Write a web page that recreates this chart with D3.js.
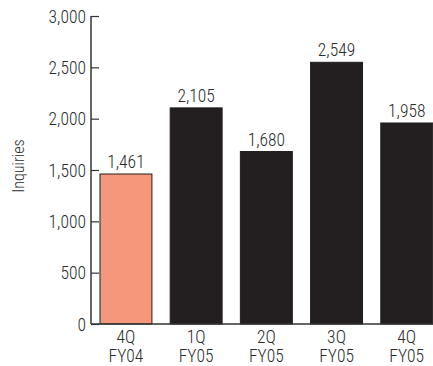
<!DOCTYPE html>
<html><head><meta charset="utf-8">
<script src="https://cdn.jsdelivr.net/npm/d3@7"></script>
<style>body{margin:0;background:#fff}svg{display:block}text{font-family:"Roboto Condensed","Liberation Sans",sans-serif;font-weight:300;fill:#2b2b2b}</style>
</head><body><svg id="c" width="433" height="366"></svg>
<script>
const categories = ["4Q|FY04","1Q|FY05","2Q|FY05","3Q|FY05","4Q|FY05"];
const values = [1461, 2105, 1680, 2549, 1958];
const colors = ["#F4977A","#231F20","#231F20","#231F20","#231F20"];
const yTicks = [0,500,1000,1500,2000,2500,3000];

const FS = 17.5;
const svg = d3.select("#c");
const y = d3.scaleLinear().domain([0,3000]).range([324,16]);
const x = d3.scaleBand().domain(categories).range([91,441.7]).paddingInner(0.26).paddingOuter(0.128);

// bars
svg.selectAll("rect.bar").data(values).join("rect")
  .attr("x",(d,i)=>x(categories[i])).attr("width",x.bandwidth())
  .attr("y",d=>y(d)).attr("height",d=>y(0)-y(d))
  .attr("fill",(d,i)=>colors[i])
  .attr("stroke","#231F20").attr("stroke-width",1);

// value labels
svg.selectAll("text.val").data(values).join("text")
  .attr("x",(d,i)=>x(categories[i])+x.bandwidth()/2).attr("y",d=>y(d)-6)
  .attr("text-anchor","middle").attr("font-size",FS).text(d=>d3.format(",")(d));

// y axis
const ya = svg.append("g").attr("transform","translate(91,0)")
  .call(d3.axisRight(y).tickValues(yTicks).tickSize(8).tickFormat(d3.format(",")));
ya.attr("font-family",null).attr("font-size",null);
ya.select(".domain").attr("stroke","#333").attr("stroke-width",1.5).attr("d","M0,16V324");
ya.selectAll(".tick line").attr("stroke","#333").attr("stroke-width",1.2);
ya.selectAll(".tick text").attr("x",-5).attr("dy","0.36em").attr("text-anchor","end").attr("font-size",FS).attr("fill","#2b2b2b");

// x axis
const xa = svg.append("g").attr("transform","translate(0,324)")
  .call(d3.axisBottom(x).tickSize(0).tickFormat(""));
xa.attr("font-family",null).attr("font-size",null);
xa.select(".domain").attr("stroke","#333").attr("stroke-width",1.5).attr("d","M91,0H433");
xa.selectAll(".tick").each(function(d){
  const g = d3.select(this);
  const parts = d.split("|");
  g.append("text").attr("y",19).attr("text-anchor","middle").attr("font-size",FS).attr("fill","#2b2b2b").text(parts[0]);
  g.append("text").attr("y",37.5).attr("text-anchor","middle").attr("font-size",FS).attr("fill","#2b2b2b").text(parts[1]);
});

svg.append("text").attr("transform","translate(24,166) rotate(-90)")
  .attr("text-anchor","middle").attr("font-size",FS-1.5).text("Inquiries");
</script></body></html>
